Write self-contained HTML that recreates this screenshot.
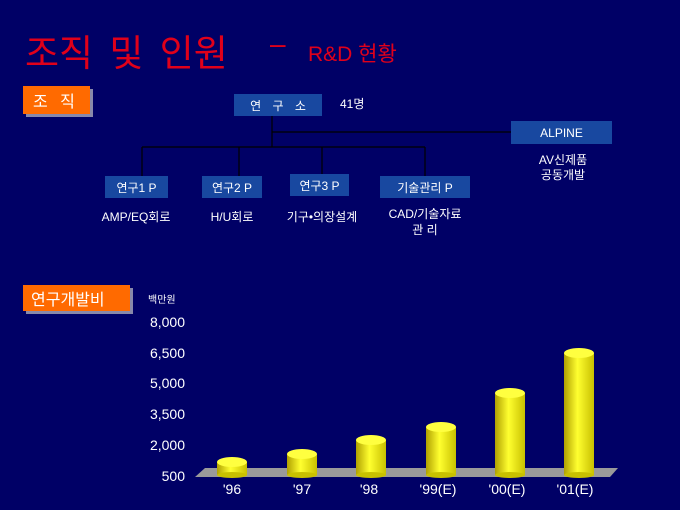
<!DOCTYPE html>
<html><head><meta charset="utf-8"><style>
body{margin:0;width:680px;height:510px;background:#000066;overflow:hidden;position:relative;font-family:"Liberation Sans","Noto Sans CJK KR",sans-serif;color:#fff}
.a{position:absolute;white-space:nowrap}
.bx{position:absolute;background:#1848a0;color:#fff;font-size:12px;display:flex;align-items:center;justify-content:center;white-space:nowrap}
.or{position:absolute;background:#ff6a00;color:#fff;box-shadow:3px 3px 0 #8888aa;display:flex;align-items:center;font-size:16px;white-space:nowrap}
.lb{position:absolute;font-size:12px;text-align:center;transform:translateX(-50%);white-space:nowrap}
</style></head><body>
<div class="a" style="left:25px;top:23px;font-size:37px;color:#e0001a;word-spacing:6px">조직 및 인원</div>
<div class="a" style="left:270px;top:28px;font-size:28px;color:#e0001a">–</div>
<div class="a" style="left:308px;top:38px;font-size:21px;color:#e0001a">R&amp;D 현황</div>

<div class="or" style="left:23px;top:86px;width:67px;height:28px;padding-left:10px;box-sizing:border-box;word-spacing:8px">조 직</div>
<div class="bx" style="left:234px;top:94px;width:88px;height:22px;word-spacing:8px">연 구 소</div>
<div class="a" style="left:340px;top:95px;font-size:12px">41명</div>
<div class="bx" style="left:511px;top:121px;width:101px;height:23px">ALPINE</div>
<div class="lb" style="left:563px;top:153px;line-height:15px">AV신제품<br>공동개발</div>

<svg class="a" style="left:0;top:0" width="680" height="510">
<g stroke="#000" stroke-width="1.2" fill="none">
<line x1="272" y1="116" x2="272" y2="147"/><line x1="272" y1="132" x2="511" y2="132"/>
<line x1="142" y1="147" x2="425" y2="147"/>
<line x1="142" y1="147" x2="142" y2="176"/><line x1="239" y1="147" x2="239" y2="176"/>
<line x1="322" y1="147" x2="322" y2="174"/><line x1="425" y1="147" x2="425" y2="176"/>
</g>
<defs><linearGradient id="g" x1="0" x2="1"><stop offset="0" stop-color="#b0a000"/><stop offset="0.45" stop-color="#ffff30"/><stop offset="1" stop-color="#c8c000"/></linearGradient></defs>
<polygon points="195,477 205,468 618,468 610,477" fill="#9a9a9a"/>
<g>
<rect x="217" y="462" width="30" height="13" fill="url(#g)"/><ellipse cx="232" cy="475" rx="15" ry="3" fill="#c8c000"/><ellipse cx="232" cy="462" rx="15" ry="5" fill="#ffff40"/>
<rect x="287" y="454" width="30" height="21" fill="url(#g)"/><ellipse cx="302" cy="475" rx="15" ry="3" fill="#c8c000"/><ellipse cx="302" cy="454" rx="15" ry="5" fill="#ffff40"/>
<rect x="356" y="440" width="30" height="35" fill="url(#g)"/><ellipse cx="371" cy="475" rx="15" ry="3" fill="#c8c000"/><ellipse cx="371" cy="440" rx="15" ry="5" fill="#ffff40"/>
<rect x="426" y="427" width="30" height="48" fill="url(#g)"/><ellipse cx="441" cy="475" rx="15" ry="3" fill="#c8c000"/><ellipse cx="441" cy="427" rx="15" ry="5" fill="#ffff40"/>
<rect x="495" y="393" width="30" height="82" fill="url(#g)"/><ellipse cx="510" cy="475" rx="15" ry="3" fill="#c8c000"/><ellipse cx="510" cy="393" rx="15" ry="5" fill="#ffff40"/>
<rect x="564" y="353" width="30" height="122" fill="url(#g)"/><ellipse cx="579" cy="475" rx="15" ry="3" fill="#c8c000"/><ellipse cx="579" cy="353" rx="15" ry="5" fill="#ffff40"/>
</g>
</svg>

<div class="bx" style="left:105px;top:176px;width:63px;height:22px">연구1 P</div>
<div class="bx" style="left:202px;top:176px;width:60px;height:22px">연구2 P</div>
<div class="bx" style="left:290px;top:174px;width:59px;height:22px">연구3 P</div>
<div class="bx" style="left:380px;top:176px;width:90px;height:22px">기술관리 P</div>
<div class="lb" style="left:136px;top:208px">AMP/EQ회로</div>
<div class="lb" style="left:232px;top:208px">H/U회로</div>
<div class="lb" style="left:322px;top:208px">기구•의장설계</div>
<div class="lb" style="left:425px;top:206px;line-height:16px">CAD/기술자료<br>관 리</div>

<div class="or" style="left:23px;top:285px;width:107px;height:26px;padding-left:8px;box-sizing:border-box">연구개발비</div>
<div class="a" style="left:148px;top:291px;font-size:10px">백만원</div>
<div class="a" style="right:495px;top:314px;font-size:14px;line-height:16px;text-align:right">8,000</div>
<div class="a" style="right:495px;top:345px;font-size:14px;line-height:16px">6,500</div>
<div class="a" style="right:495px;top:375px;font-size:14px;line-height:16px">5,000</div>
<div class="a" style="right:495px;top:406px;font-size:14px;line-height:16px">3,500</div>
<div class="a" style="right:495px;top:437px;font-size:14px;line-height:16px">2,000</div>
<div class="a" style="right:495px;top:468px;font-size:14px;line-height:16px">500</div>
<div class="lb" style="left:232px;top:481px;font-size:14px">'96</div>
<div class="lb" style="left:302px;top:481px;font-size:14px">'97</div>
<div class="lb" style="left:369px;top:481px;font-size:14px">'98</div>
<div class="lb" style="left:438px;top:481px;font-size:14px">'99(E)</div>
<div class="lb" style="left:507px;top:481px;font-size:14px">'00(E)</div>
<div class="lb" style="left:575px;top:481px;font-size:14px">'01(E)</div>
</body></html>
